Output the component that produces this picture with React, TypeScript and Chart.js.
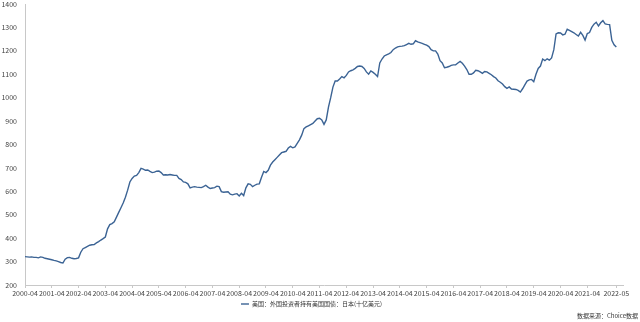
import React, { useEffect, useRef } from "react";
import { Chart, registerables } from "chart.js";

Chart.register(...registerables);

const START_YEAR = 2000;
const START_MONTH = 4;

// 美国：外国投资者持有美国国债：日本(十亿美元), monthly from 2000-04 to 2022-05
const japanHoldings: number[] = [
  321, 320, 319, 320, 318, 318, 316, 320, 318, 314, 312, 310,
  308, 305, 303, 300, 296, 294, 310, 317, 318, 314, 312, 313,
  316, 340, 355, 360, 365, 370, 372, 373, 380, 385, 392, 398,
  405, 440, 458, 462, 470, 490, 510, 530, 550, 575, 605, 640,
  655, 665, 668, 680, 698, 695, 690, 691, 685, 680, 682, 686,
  687, 680, 670, 671, 670, 672, 670, 668, 668, 655, 650, 640,
  638, 632, 615, 618, 620, 618, 617, 616, 620, 626, 618, 612,
  614, 616, 622, 620, 599, 596, 597, 598, 588, 585, 588, 590,
  580, 592, 582, 615, 632, 630, 620, 626, 631, 632, 660, 685,
  680, 690, 712, 725, 735, 745, 755, 765, 768, 771, 785, 792,
  786, 790, 805, 820, 840, 868, 875, 880, 885, 890, 900, 910,
  912, 905, 886, 905, 960, 1000, 1045, 1071, 1071, 1080, 1090, 1085,
  1095, 1110, 1115, 1119, 1125, 1133, 1135, 1133, 1125, 1110, 1100, 1114,
  1108, 1100, 1090, 1148, 1165, 1178, 1183, 1187, 1193, 1205, 1212, 1217,
  1219, 1220, 1222, 1227, 1232, 1228, 1230, 1243, 1238, 1235, 1232, 1228,
  1224, 1218, 1205, 1200, 1200, 1186, 1158, 1148, 1128, 1130, 1133, 1138,
  1140, 1140, 1148, 1155, 1147, 1135, 1120, 1100, 1100, 1106, 1117, 1115,
  1110, 1104, 1112, 1110, 1104, 1098, 1090, 1084, 1072, 1066, 1058, 1047,
  1040, 1046, 1037, 1036, 1035, 1031, 1024, 1038, 1055, 1071, 1076, 1078,
  1068, 1100, 1125, 1135, 1165, 1158, 1166, 1160, 1170, 1205, 1272, 1277,
  1276, 1268, 1271, 1292, 1287, 1282, 1277, 1270, 1263, 1279, 1266, 1246,
  1274, 1278, 1300, 1314, 1322, 1306, 1320, 1329, 1315, 1313, 1312, 1245,
  1226, 1216,
];

const tickLabels: string[] = [
  "2000-04", "2001-04", "2002-04", "2003-04", "2004-04", "2005-04",
  "2006-04", "2007-04", "2008-04", "2009-04", "2010-04", "2011-04",
  "2012-04", "2013-04", "2014-04", "2015-04", "2016-04", "2017-04",
  "2018-04", "2019-04", "2020-04", "2021-04", "2022-05",
];

const seriesName = "美国：外国投资者持有美国国债：日本(十亿美元)";
const sourceText = "数据来源：Choice数据";

const monthLabels: string[] = japanHoldings.map((_, i) => {
  const total = START_MONTH - 1 + i;
  const y = START_YEAR + Math.floor(total / 12);
  const m = (total % 12) + 1;
  return `${y}-${m < 10 ? "0" + m : m}`;
});

const FONT = "'Noto Sans CJK SC', 'Noto Sans', sans-serif";

export default function App() {
  const ref = useRef<HTMLCanvasElement | null>(null);

  useEffect(() => {
    if (!ref.current) return;
    const sourcePlugin = {
      id: "sourceText",
      afterDraw(chart: any) {
        const ctx = chart.ctx;
        ctx.save();
        ctx.font = `6px ${FONT}`;
        ctx.fillStyle = "#333";
        ctx.textAlign = "right";
        ctx.textBaseline = "middle";
        ctx.fillText(sourceText, 638, 316);
        ctx.restore();
      },
    };
    const chart = new Chart(ref.current, {
      type: "line",
      data: {
        datasets: [
          {
            label: seriesName,
            data: japanHoldings.map((v, i) => ({ x: i, y: v })),
            borderColor: "#3b6394",
            backgroundColor: "#3b6394",
            borderWidth: 1.4,
            pointRadius: 0,
            tension: 0,
          },
        ],
      },
      options: {
        responsive: false,
        animation: false,
        devicePixelRatio: 1,
        layout: { padding: { top: 1, right: 17, bottom: 5, left: 0 } },
        plugins: {
          legend: {
            position: "bottom",
            labels: {
              usePointStyle: true,
              pointStyle: "line",
              pointStyleWidth: 8,
              padding: 4,
              color: "#333",
              font: { family: FONT, size: 6 },
            },
          },
          tooltip: { enabled: false },
        },
        scales: {
          x: {
            type: "linear",
            min: 0,
            max: japanHoldings.length + 2,
            afterBuildTicks: (axis: any) => {
              axis.ticks = tickLabels.map((l) => ({ value: monthLabels.indexOf(l) }));
            },
            afterFit: (s: any) => {
              s.height = 12;
            },
            grid: {
              display: true,
              drawOnChartArea: false,
              drawTicks: true,
              tickLength: 3,
              color: "#c8c8c8",
            },
            border: { display: true, color: "#c8c8c8" },
            ticks: {
              autoSkip: false,
              maxRotation: 0,
              padding: 1,
              color: "#444",
              font: { family: FONT, size: 7 },
              callback: (v: any) => monthLabels[Number(v)] ?? "",
            },
          },
          y: {
            min: 200,
            max: 1400,
            afterFit: (s: any) => {
              s.width = 25;
              s.paddingTop = 4;
              s.paddingBottom = 4;
            },
            grid: { display: false, drawTicks: false },
            border: { display: true, color: "#c8c8c8" },
            ticks: {
              stepSize: 100,
              padding: 8,
              color: "#444",
              font: { family: FONT, size: 7 },
              callback: (v: any) => String(v),
            },
          },
        },
      },
      plugins: [sourcePlugin],
    });
    return () => chart.destroy();
  }, []);

  return (
    <div style={{ position: "fixed", left: 0, top: 0, width: 640, height: 322, background: "#fff" }}>
      <canvas ref={ref} width={640} height={322} />
    </div>
  );
}
